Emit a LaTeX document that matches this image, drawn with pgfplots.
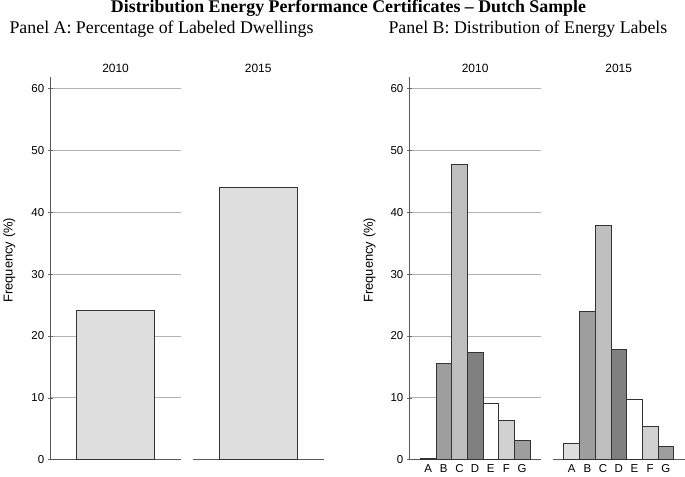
\documentclass[border=0pt]{standalone}
\usepackage{fontspec}
\setmainfont{Liberation Serif}
\setsansfont{Liberation Sans}
\usepackage{pgfplots}
\pgfplotsset{compat=1.18}
\definecolor{cA}{gray}{0.87}
\definecolor{cB}{gray}{0.62}
\definecolor{cC}{gray}{0.75}
\definecolor{cD}{gray}{0.50}
\definecolor{cE}{gray}{1.0}
\definecolor{cF}{gray}{0.82}
\definecolor{cG}{gray}{0.62}
\definecolor{edge}{gray}{0.2}
\pgfplotsset{
  facet/.style={
    scale only axis, height=384pt,
    ymin=0, ymax=61.9,
    ytick={0,10,...,60},
    ymajorgrids,
    major grid style={gray!60, line width=0.8pt},
    tick align=outside, major tick length=5pt,
    tick style={gray!80!black, line width=0.6pt},
    /pgf/number format/assume math mode=true,
    tick label style={font=\sffamily\fontsize{11.5}{12}\selectfont},
    title style={at={(0.5,1)}, anchor=south, yshift=-5pt, font=\sffamily\fontsize{12}{13}\selectfont},
    clip=false,
  },
  leftfacet/.style={facet, axis x line=bottom, axis y line=left,
    x axis line style={-}, y axis line style={-},
    axis line style={gray!70!black, line width=0.9pt}},
  rightfacet/.style={facet, axis x line=bottom, axis y line=none, yticklabels={},
    x axis line style={-}, axis line style={gray!70!black, line width=0.9pt},
    ytick style={draw=none}},
}
\begin{document}
\begin{tikzpicture}
\path (0pt,0pt) rectangle (685pt,474pt);
% titles
\node[anchor=base, font=\bfseries\fontsize{17.9}{18}\selectfont, inner sep=0] at (348pt,461pt) {Distribution Energy Performance Certificates -- Dutch Sample};
\node[anchor=base west, font=\fontsize{17.9}{18}\selectfont, inner sep=0] at (8pt,440pt) {Panel A: Percentage of Labeled Dwellings};
\node[anchor=base west, font=\fontsize{17.9}{18}\selectfont, inner sep=0] at (388pt,440pt) {Panel B: Distribution of Energy Labels};
\node[rotate=90, font=\sffamily\fontsize{13}{14}\selectfont] at (8pt,213pt) {Frequency (\%)};
\node[rotate=90, font=\sffamily\fontsize{13}{14}\selectfont] at (369pt,213pt) {Frequency (\%)};

% Panel A
\begin{axis}[leftfacet, at={(49pt,13pt)}, anchor=south west, width=131pt,
  xmin=0.5, xmax=1.5, xtick=\empty, title={2010}]
\addplot[ybar, bar width=0.595, fill=cA, draw=edge, line width=0.8pt] coordinates {(1,24.2)};
\end{axis}
\begin{axis}[rightfacet, at={(192pt,13pt)}, anchor=south west, width=131pt,
  xmin=0.5, xmax=1.5, xtick=\empty, title={2015}]
\addplot[ybar, bar width=0.595, fill=cA, draw=edge, line width=0.8pt] coordinates {(1,44.1)};
\end{axis}

% Panel B
\pgfplotsset{
  bfacet/.style={width=132pt, xmin=-0.2, xmax=8.2, xtick={1,...,7},
    xticklabels={A,B,C,D,E,F,G}, xtick style={draw=none},
    x tick label style={yshift=1pt}},
  barB/.style={ybar, bar width=1, draw=edge, line width=0.8pt},
}
\begin{axis}[leftfacet, bfacet, at={(409pt,13pt)}, anchor=south west, title={2010}]
\addplot[barB, fill=cA] coordinates {(1,0.3)};
\addplot[barB, fill=cB] coordinates {(2,15.6)};
\addplot[barB, fill=cC] coordinates {(3,47.8)};
\addplot[barB, fill=cD] coordinates {(4,17.3)};
\addplot[barB, fill=cE] coordinates {(5,9.1)};
\addplot[barB, fill=cF] coordinates {(6,6.4)};
\addplot[barB, fill=cG] coordinates {(7,3.2)};
\end{axis}
\begin{axis}[rightfacet, bfacet, at={(553pt,13pt)}, anchor=south west, title={2015}]
\addplot[barB, fill=cA] coordinates {(1,2.7)};
\addplot[barB, fill=cB] coordinates {(2,23.9)};
\addplot[barB, fill=cC] coordinates {(3,37.8)};
\addplot[barB, fill=cD] coordinates {(4,17.8)};
\addplot[barB, fill=cE] coordinates {(5,9.8)};
\addplot[barB, fill=cF] coordinates {(6,5.4)};
\addplot[barB, fill=cG] coordinates {(7,2.1)};
\end{axis}
\end{tikzpicture}
\end{document}
